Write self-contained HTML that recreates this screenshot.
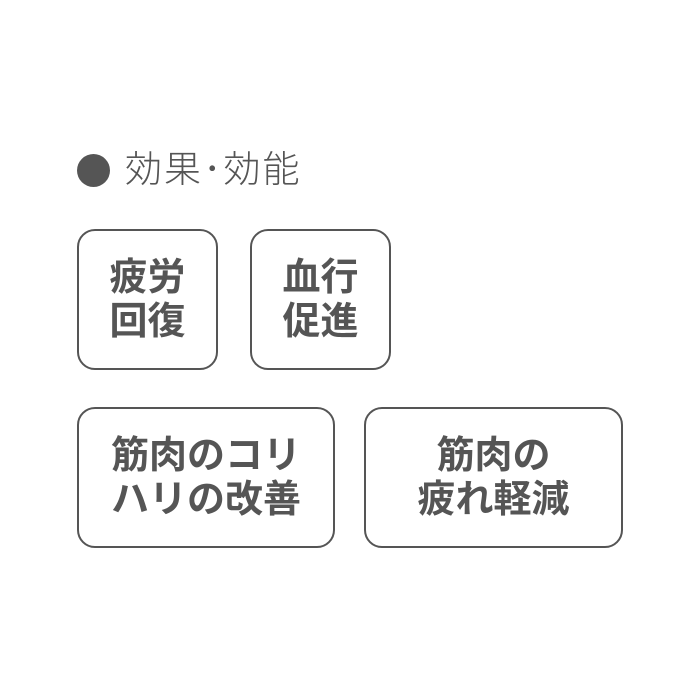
<!DOCTYPE html>
<html><head><meta charset="utf-8"><style>
body{margin:0;width:700px;height:700px;background:#fff;position:relative;overflow:hidden;font-family:"Liberation Sans","Noto Sans CJK JP",sans-serif;color:#555}
.dot{position:absolute;left:77px;top:154px;width:33px;height:33px;border-radius:50%;background:#555}
.t{position:absolute;left:125px;top:148px;font-size:37px;font-weight:300;line-height:44px;white-space:nowrap;letter-spacing:2px}
.b{position:absolute;border:2px solid #555;border-radius:18px;box-sizing:border-box;display:flex;align-items:center;justify-content:center;text-align:center;font-weight:bold;font-size:38px;line-height:44px;background:#fff}
</style></head><body>
<div class="dot"></div>
<div class="t">効果･効能</div>
<div class="b" style="left:77px;top:229px;width:141px;height:141px">疲労<br>回復</div>
<div class="b" style="left:250px;top:229px;width:141px;height:141px">血行<br>促進</div>
<div class="b" style="left:77px;top:407px;width:258px;height:141px">筋肉のコリ<br>ハリの改善</div>
<div class="b" style="left:364px;top:407px;width:259px;height:141px">筋肉の<br>疲れ軽減</div>
</body></html>
